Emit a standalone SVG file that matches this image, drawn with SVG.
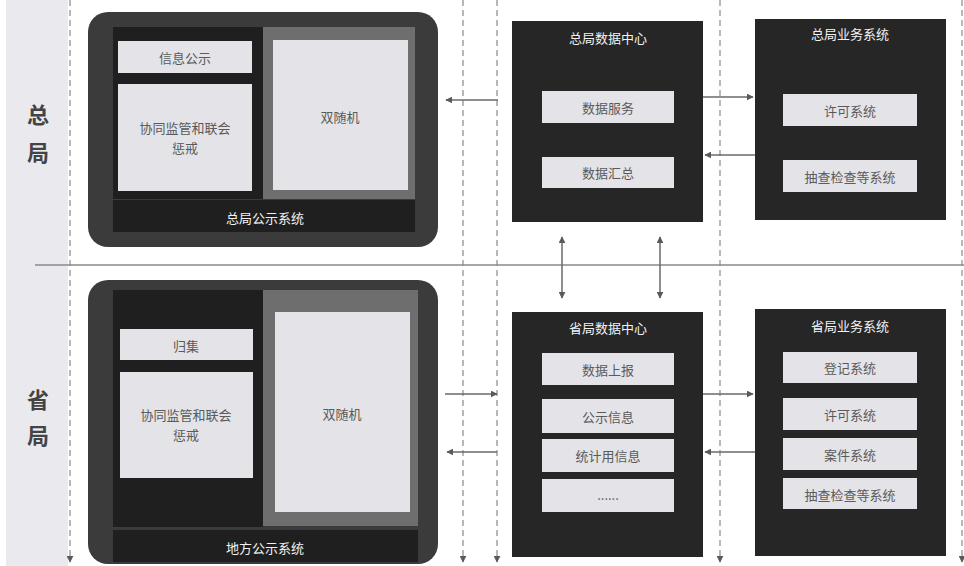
<svg xmlns="http://www.w3.org/2000/svg" width="964" height="566" viewBox="0 0 964 566">
<defs>
<style>
text{font-family:"Noto Sans CJK SC","Noto Sans",sans-serif;text-anchor:middle;dominant-baseline:central}
.lbl{font-size:13px;fill:#5a5a5a}
.ttl{font-size:13px;fill:#f2f2f2}
.big{font-size:22px;fill:#444;font-weight:bold}
.outer{fill:#3b3b3b}
.blk{fill:#1f1f1f}
.mid{fill:#6e6e6e}
.lt{fill:#e4e4e8}
.dc{fill:#262626}
.dash{stroke:#8a8a8a;stroke-width:1.2;stroke-dasharray:6,4;fill:none}
.ar{stroke:#6a6a6a;stroke-width:1.5;fill:none}
</style>
<marker id="ah" viewBox="0 0 10 10" refX="9" refY="5" markerWidth="7" markerHeight="7" orient="auto-start-reverse" markerUnits="userSpaceOnUse">
<path d="M0,0 L10,5 L0,10 z" fill="#5a5a5a"/>
</marker>
</defs>
<rect width="964" height="566" fill="#ffffff"/>
<rect x="6" y="0" width="62" height="566" fill="#e9e9ee"/>
<g id="band-labels">
<text class="big" x="38" y="113">总</text>
<text class="big" x="38" y="151">局</text>
<text class="big" x="38" y="398">省</text>
<text class="big" x="38" y="434">局</text>
</g>
<line x1="35" y1="265" x2="964" y2="265" stroke="#8a8a8a" stroke-width="1.5"/>

<g id="zongju-gongshi">
<rect class="outer" x="88" y="12" width="350" height="235" rx="20"/>
<rect class="blk" x="113" y="27" width="150" height="172"/>
<rect class="mid" x="263" y="27" width="152" height="172"/>
<rect class="lt" x="273" y="40" width="135" height="150"/>
<text class="lbl" x="340" y="116">双随机</text>
<rect class="lt" x="118" y="41" width="134" height="32"/>
<text class="lbl" x="185" y="57">信息公示</text>
<rect class="lt" x="118" y="84" width="134" height="107"/>
<text class="lbl" x="185" y="127">协同监管和联会</text>
<text class="lbl" x="185" y="147">惩戒</text>
<rect class="blk" x="113" y="200" width="302" height="32"/>
<text class="ttl" x="265" y="217">总局公示系统</text>
</g>

<g id="difang-gongshi">
<rect class="outer" x="88" y="280" width="350" height="284" rx="20"/>
<rect class="blk" x="113" y="290" width="150" height="237"/>
<rect class="mid" x="263" y="290" width="155" height="236"/>
<rect class="lt" x="275" y="312" width="135" height="200"/>
<text class="lbl" x="342" y="413">双随机</text>
<rect class="lt" x="120" y="329" width="133" height="31"/>
<text class="lbl" x="186" y="345">归集</text>
<rect class="lt" x="120" y="372" width="133" height="106"/>
<text class="lbl" x="186" y="414">协同监管和联会</text>
<text class="lbl" x="186" y="434">惩戒</text>
<rect class="blk" x="113" y="530" width="305" height="32"/>
<text class="ttl" x="265" y="547">地方公示系统</text>
</g>

<g id="zongju-shujuzhongxin">
<rect class="dc" x="512" y="21" width="191" height="201"/>
<text class="ttl" x="608" y="37">总局数据中心</text>
<rect class="lt" x="542" y="91" width="132" height="32"/>
<text class="lbl" x="608" y="107">数据服务</text>
<rect class="lt" x="542" y="157" width="132" height="31"/>
<text class="lbl" x="608" y="172">数据汇总</text>
</g>

<g id="zongju-yewu">
<rect class="dc" x="755" y="19" width="191" height="201"/>
<text class="ttl" x="850" y="33">总局业务系统</text>
<rect class="lt" x="783" y="94" width="134" height="32"/>
<text class="lbl" x="850" y="110">许可系统</text>
<rect class="lt" x="783" y="160" width="134" height="32"/>
<text class="lbl" x="850" y="176">抽查检查等系统</text>
</g>

<g id="shengju-shujuzhongxin">
<rect class="dc" x="512" y="312" width="191" height="245"/>
<text class="ttl" x="608" y="327">省局数据中心</text>
<rect class="lt" x="542" y="353" width="132" height="32"/>
<text class="lbl" x="608" y="369">数据上报</text>
<rect class="lt" x="542" y="399" width="132" height="34"/>
<text class="lbl" x="608" y="416">公示信息</text>
<rect class="lt" x="542" y="439" width="132" height="33"/>
<text class="lbl" x="608" y="455">统计用信息</text>
<rect class="lt" x="542" y="479" width="132" height="33"/>
<text class="lbl" x="608" y="494">......</text>
</g>

<g id="shengju-yewu">
<rect class="dc" x="755" y="309" width="191" height="247"/>
<text class="ttl" x="850" y="325">省局业务系统</text>
<rect class="lt" x="783" y="352" width="134" height="31"/>
<text class="lbl" x="850" y="367">登记系统</text>
<rect class="lt" x="783" y="398" width="134" height="32"/>
<text class="lbl" x="850" y="414">许可系统</text>
<rect class="lt" x="783" y="438" width="134" height="32"/>
<text class="lbl" x="850" y="454">案件系统</text>
<rect class="lt" x="783" y="478" width="134" height="31"/>
<text class="lbl" x="850" y="494">抽查检查等系统</text>
</g>

<g id="connectors">
<line class="dash" x1="70" y1="0" x2="70" y2="562" marker-end="url(#ah)"/>
<line class="dash" x1="463" y1="0" x2="463" y2="562" marker-end="url(#ah)"/>
<line class="dash" x1="497" y1="0" x2="497" y2="562" marker-end="url(#ah)"/>
<line class="dash" x1="720" y1="0" x2="720" y2="562" marker-end="url(#ah)"/>
<line class="dash" x1="962" y1="0" x2="962" y2="562" marker-end="url(#ah)"/>
<line class="ar" x1="498" y1="100" x2="446" y2="100" marker-end="url(#ah)"/>
<line class="ar" x1="703" y1="97" x2="753" y2="97" marker-end="url(#ah)"/>
<line class="ar" x1="755" y1="155" x2="705" y2="155" marker-end="url(#ah)"/>
<line class="ar" x1="562" y1="237" x2="562" y2="298" marker-start="url(#ah)" marker-end="url(#ah)"/>
<line class="ar" x1="660" y1="237" x2="660" y2="298" marker-start="url(#ah)" marker-end="url(#ah)"/>
<line class="ar" x1="445" y1="394" x2="497" y2="394" marker-end="url(#ah)"/>
<line class="ar" x1="497" y1="452" x2="447" y2="452" marker-end="url(#ah)"/>
<line class="ar" x1="703" y1="394" x2="753" y2="394" marker-end="url(#ah)"/>
<line class="ar" x1="755" y1="452" x2="705" y2="452" marker-end="url(#ah)"/>
</g>
</svg>
